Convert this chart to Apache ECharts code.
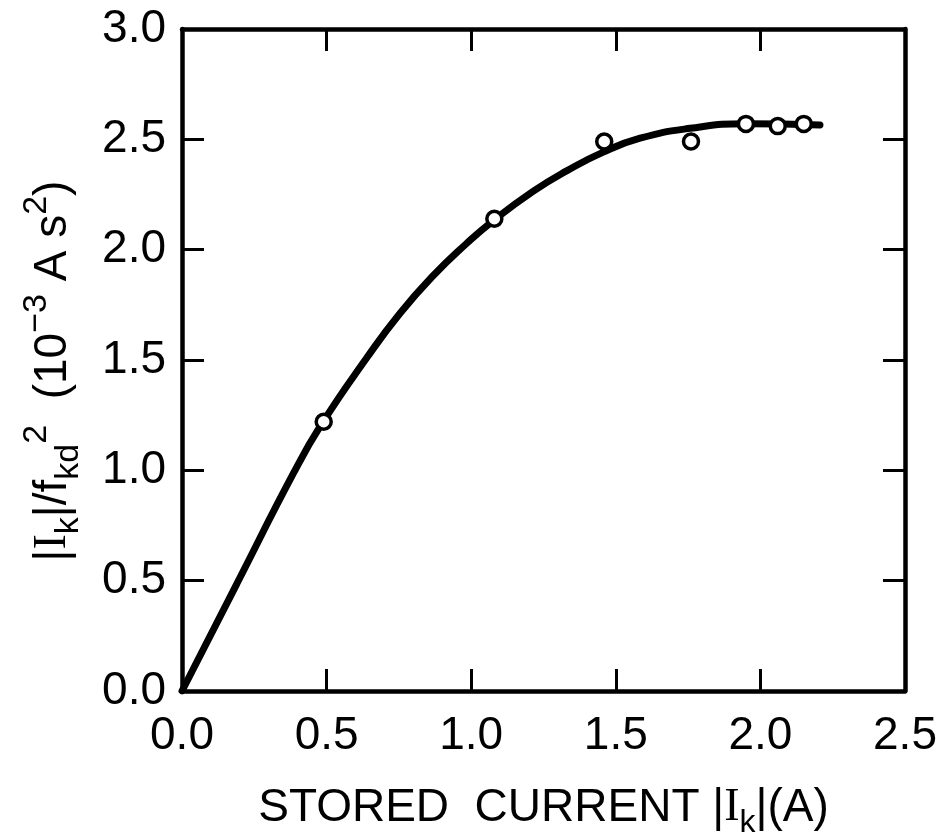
<!DOCTYPE html>
<html>
<head>
<meta charset="utf-8">
<script src="https://cdn.jsdelivr.net/npm/echarts@6/dist/echarts.min.js"></script>
<style>
html,body{margin:0;padding:0;background:#fff;}
#chart{width:945px;height:839px;}
</style>
</head>
<body>
<div id="chart"></div>
<script>
// Measured points (stored current |Ik| in A, |Ik|/fkd^2 in 1e-3 A s^2)
const pointX = [0.49, 1.08, 1.46, 1.76, 1.95, 2.06, 2.15];
const pointY = [1.22, 2.14, 2.49, 2.49, 2.57, 2.56, 2.57];
// Hand-drawn fitted curve
const curveX = [0, 0.19, 0.385, 0.483, 0.639, 0.754, 0.869, 0.984, 1.073, 1.215, 1.33, 1.453, 1.584, 1.757, 1.953, 2.206];
const curveY = [0, 0.487, 0.986, 1.21, 1.51, 1.712, 1.883, 2.028, 2.128, 2.265, 2.357, 2.44, 2.505, 2.55, 2.571, 2.565];
// Tick labels
const xTickLabels = ['0.0', '0.5', '1.0', '1.5', '2.0', '2.5'];
const yTickLabels = ['0.0', '0.5', '1.0', '1.5', '2.0', '2.5', '3.0'];

const FONT = 'Liberation Sans';
const chart = echarts.init(document.getElementById('chart'));

const axisLine = { show: true, onZero: false, lineStyle: { color: '#000', width: 4.5, cap: 'round' } };
const axisTick = { show: true, inside: true, length: 22, lineStyle: { color: '#000', width: 3 } };

const option = {
  backgroundColor: '#fff',
  animation: false,
  grid: { left: 182, right: 40, top: 29, bottom: 148, containLabel: false, outerBoundsMode: 'none' },
  xAxis: [
    {
      type: 'value', position: 'bottom', min: 0, max: 2.5, interval: 0.5,
      axisLine, axisTick, splitLine: { show: false },
      axisLabel: {
        margin: 22, color: '#000', fontFamily: FONT, fontSize: 46,
        formatter: (v) => xTickLabels[Math.round(v / 0.5)]
      },
      name: 'STORED  CURRENT |{ser|I}{sub|k}|(A)',
      nameLocation: 'middle', nameGap: 86,
      nameTextStyle: {
        color: '#000', fontFamily: FONT, fontSize: 46,
        rich: {
          ser: { fontFamily: 'Liberation Serif', fontSize: 46, color: '#000' },
          sub: { fontFamily: FONT, fontSize: 32, color: '#000', padding: [30, 0, 0, 0] }
        }
      }
    },
    {
      type: 'value', position: 'top', min: 0, max: 2.5, interval: 0.5,
      axisLine, axisTick, axisLabel: { show: false }, splitLine: { show: false }
    }
  ],
  yAxis: [
    {
      type: 'value', position: 'left', min: 0, max: 3, interval: 0.5,
      axisLine, axisTick, splitLine: { show: false },
      axisLabel: {
        margin: 16, color: '#000', fontFamily: FONT, fontSize: 46,
        formatter: (v) => yTickLabels[Math.round(v / 0.5)]
      },
      name: '|{ser|I}{sub|k}|/f{sub|kd}{sup|2}  (10{sup|−3} A s{sup|2})',
      nameLocation: 'middle', nameGap: 96, nameRotate: 90,
      nameTextStyle: {
        color: '#000', fontFamily: FONT, fontSize: 46,
        padding: [0, 22, 0, 0],
        rich: {
          ser: { fontFamily: 'Liberation Serif', fontSize: 46, color: '#000' },
          sub: { fontFamily: FONT, fontSize: 34, color: '#000', padding: [32, 0, 0, 0] },
          sup: { fontFamily: FONT, fontSize: 34, color: '#000', padding: [0, 0, 32, 0] }
        }
      }
    },
    {
      type: 'value', position: 'right', min: 0, max: 3, interval: 0.5,
      axisLine, axisTick, axisLabel: { show: false }, splitLine: { show: false }
    }
  ],
  series: [
    {
      type: 'line', name: 'fit',
      data: curveX.map((x, i) => [x, curveY[i]]),
      smooth: 0.5, showSymbol: false, symbol: 'none',
      lineStyle: { color: '#000', width: 7, cap: 'round', join: 'round' },
      z: 2
    },
    {
      type: 'scatter', name: 'measured',
      data: pointX.map((x, i) => [x, pointY[i]]),
      symbol: 'circle', symbolSize: 15,
      itemStyle: { color: '#fff', borderColor: '#000', borderWidth: 3.5, opacity: 1 },
      emphasis: { disabled: true },
      z: 3
    }
  ]
};
chart.setOption(option);
</script>
</body>
</html>
